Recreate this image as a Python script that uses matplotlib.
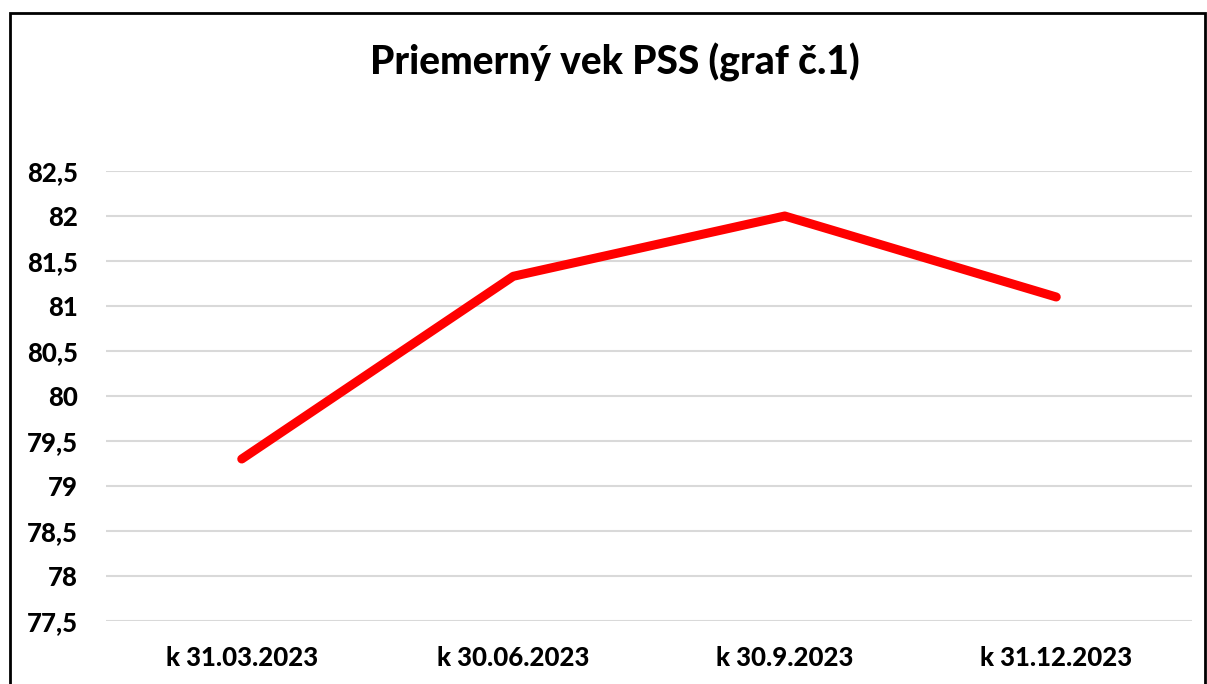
import matplotlib
matplotlib.use('Agg')
import matplotlib.pyplot as plt
from matplotlib.ticker import FuncFormatter, MultipleLocator
from matplotlib.patches import Rectangle

plt.rcParams['font.family'] = ['Lato', 'DejaVu Sans']

# data
kategorie = ['k 31.03.2023', 'k 30.06.2023', 'k 30.9.2023', 'k 31.12.2023']
priemerny_vek = [79.3, 81.33, 82.0, 81.1]

fig = plt.figure(figsize=(12.07, 6.84), dpi=100)
ax = fig.add_axes([106/1207, 1 - 621/684, (1192 - 106)/1207, (621 - 171)/684])

ax.plot(range(len(kategorie)), priemerny_vek, color='#ff0000', linewidth=6.5,
        solid_capstyle='round', solid_joinstyle='round', zorder=3)

ax.set_xlim(-0.5, len(kategorie) - 0.5)
ax.set_ylim(77.5, 82.5)
ax.yaxis.set_major_locator(MultipleLocator(0.5))
ax.yaxis.set_major_formatter(FuncFormatter(lambda v, p: ('%g' % v).replace('.', ',')))
ax.set_xticks(range(len(kategorie)))
ax.set_xticklabels(kategorie)

ax.grid(axis='y', color='#d9d9d9', linewidth=1.5)
ax.set_axisbelow(True)
for s in ax.spines.values():
    s.set_visible(False)
ax.tick_params(length=0)
ax.tick_params(axis='y', pad=20, labelsize=18.5)
ax.tick_params(axis='x', pad=18, labelsize=18.5)
for lab in ax.get_xticklabels() + ax.get_yticklabels():
    lab.set_fontweight('black')

fig.text(615/1207, 1 - 62/684, 'Priemerný vek PSS (graf č.1)', ha='center', va='center',
         fontsize=28, fontweight='black')

# ramcek grafu
fig.patches.append(Rectangle((10/1207, -0.1), 1195/1207, 1.1 - 13/684,
                             transform=fig.transFigure, fill=False,
                             edgecolor='black', linewidth=2))

fig.savefig('out.png', dpi=100)
